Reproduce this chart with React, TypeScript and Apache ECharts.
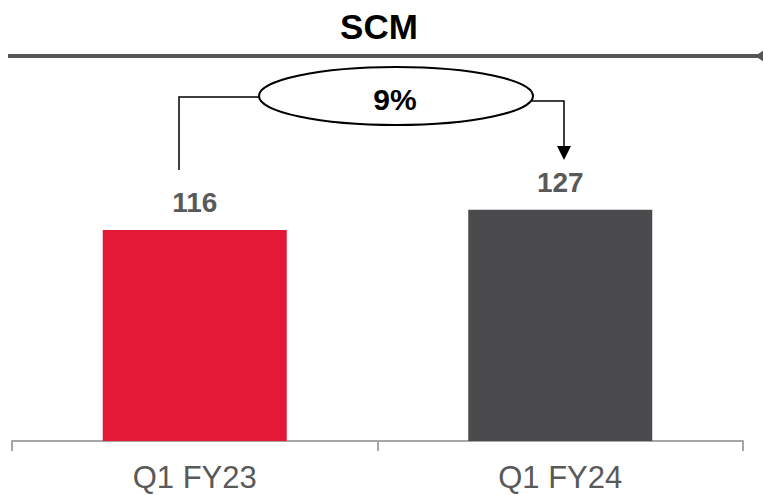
import React, { useEffect, useRef } from "react";
import * as echarts from "echarts";

const categories = ["Q1 FY23", "Q1 FY24"];
const values = [116, 127];
const barColors = ["#E41937", "#4B4B4D"];
const title = "SCM";
const growthLabel = "9%";

export default function App() {
  const ref = useRef<HTMLDivElement>(null);
  useEffect(() => {
    if (!ref.current) return;
    const chart = echarts.init(ref.current, null, { renderer: "svg" });
    const font = "'Liberation Sans', Arial, sans-serif";
    chart.setOption({
      animation: false,
      backgroundColor: "#ffffff",
      title: {
        text: title,
        left: 374,
        top: 4,
        textAlign: "center",
        textStyle: { fontFamily: font, fontSize: 35, fontWeight: "bold", color: "#000000" },
      },
      grid: { left: 12, right: 20, top: 77, bottom: 54 },
      xAxis: {
        type: "category",
        data: categories,
        boundaryGap: true,
        axisLine: { show: true, lineStyle: { color: "#A6A6A6", width: 2 } },
        axisTick: { show: true, length: 10, lineStyle: { color: "#A6A6A6", width: 2 } },
        axisLabel: {
          fontFamily: font,
          fontSize: 31,
          color: "#595959",
          margin: 21,
        },
      },
      yAxis: {
        type: "value",
        min: 0,
        max: 200,
        show: false,
        splitLine: { show: false },
      },
      series: [
        {
          type: "bar",
          barWidth: 184,
          data: values.map((v, i) => ({ value: v, itemStyle: { color: barColors[i] } })),
          label: {
            show: true,
            position: "top",
            distance: 13,
            fontFamily: font,
            fontSize: 28,
            fontWeight: "bold",
            color: "#595959",
          },
        },
      ],
      graphic: [
        {
          type: "line",
          shape: { x1: 8, y1: 56, x2: 758, y2: 56 },
          style: { stroke: "#555555", lineWidth: 4 },
        },
        {
          type: "polygon",
          shape: { points: [[755, 56], [764, 50], [764, 62]] },
          style: { fill: "#555555" },
        },
        {
          type: "polyline",
          shape: { points: [[179, 170], [179, 97], [260, 97]] },
          style: { stroke: "#000000", lineWidth: 1.5, fill: "none" },
        },
        {
          type: "polyline",
          shape: { points: [[532, 101], [564, 101], [564, 148]] },
          style: { stroke: "#000000", lineWidth: 1.5, fill: "none" },
        },
        {
          type: "polygon",
          shape: { points: [[557, 146], [571, 146], [564, 160]] },
          style: { fill: "#000000" },
        },
        {
          type: "ellipse",
          shape: { cx: 396, cy: 96, rx: 137, ry: 29 },
          style: { fill: "#ffffff", stroke: "#000000", lineWidth: 2 },
        },
        {
          type: "text",
          x: 395,
          y: 99,
          style: {
            text: growthLabel,
            fontFamily: font,
            fontSize: 30,
            fontWeight: "bold",
            fill: "#000000",
            align: "center",
            verticalAlign: "middle",
          },
        },
      ],
    });
    return () => chart.dispose();
  }, []);
  return (
    <div
      ref={ref}
      style={{ position: "absolute", left: 0, top: 0, width: 763, height: 495 }}
    />
  );
}
